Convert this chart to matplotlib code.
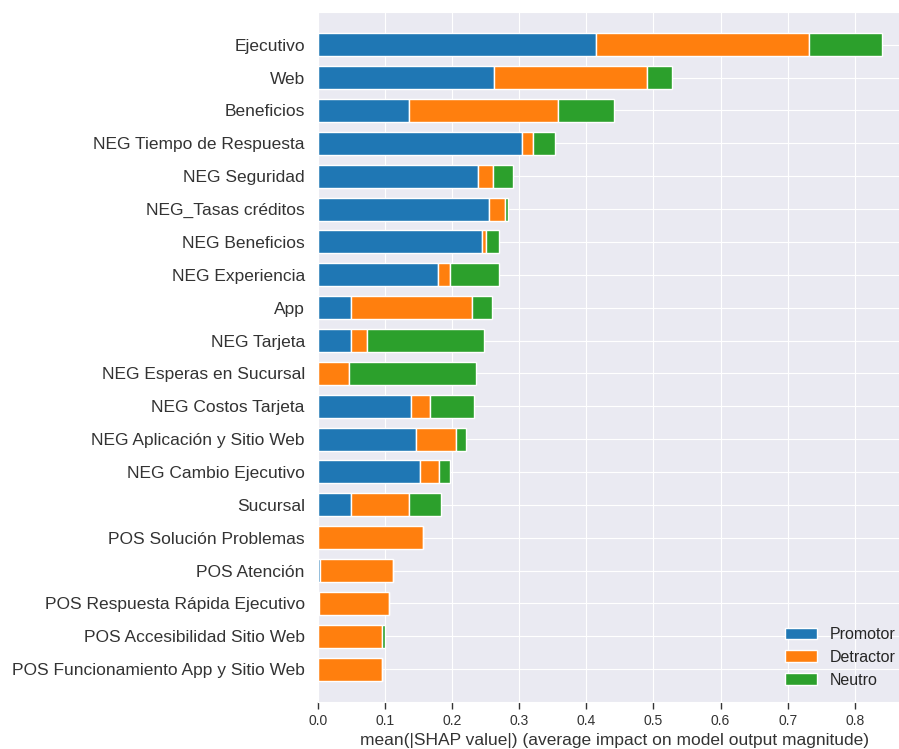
import matplotlib
matplotlib.use("Agg")
import matplotlib.pyplot as plt
import numpy as np
import seaborn as sns

# features, from bottom (y=0) to top
features = [
    "POS Funcionamiento App y Sitio Web",
    "POS Accesibilidad Sitio Web",
    "POS Respuesta Rápida Ejecutivo",
    "POS Atención",
    "POS Solución Problemas",
    "Sucursal",
    "NEG Cambio Ejecutivo",
    "NEG Aplicación y Sitio Web",
    "NEG Costos Tarjeta",
    "NEG Esperas en Sucursal",
    "NEG Tarjeta",
    "App",
    "NEG Experiencia",
    "NEG Beneficios",
    "NEG_Tasas créditos",
    "NEG Seguridad",
    "NEG Tiempo de Respuesta",
    "Beneficios",
    "Web",
    "Ejecutivo",
]

promotor = [0.0, 0.0, 0.002, 0.0035, 0.0, 0.0485, 0.152, 0.1466, 0.138, 0.0,
            0.0485, 0.0485, 0.1795, 0.245, 0.255, 0.239, 0.304, 0.136, 0.2625, 0.415]
detractor = [0.096, 0.095, 0.104, 0.109, 0.157, 0.0875, 0.029, 0.0585, 0.029, 0.046,
             0.0245, 0.181, 0.018, 0.006, 0.024, 0.022, 0.016, 0.222, 0.228, 0.317]
neutro = [0.0, 0.005, 0.0, 0.0, 0.0, 0.047, 0.016, 0.0157, 0.065, 0.189,
          0.174, 0.030, 0.073, 0.019, 0.004, 0.029, 0.034, 0.083, 0.0375, 0.109]

class_names = ["Promotor", "Detractor", "Neutro"]

sns.set_style("darkgrid")
plt.rcParams['font.family'] = ['Liberation Sans', 'DejaVu Sans']

fig = plt.figure(figsize=(8.99, 7.49), dpi=100)
ax = fig.add_axes([0.3537, 0.0627, 0.659, 0.9215])

axis_color = "#333333"
y_pos = np.arange(len(features))
left_pos = np.zeros(len(features))
for i, vals in enumerate([promotor, detractor, neutro]):
    vals = np.array(vals)
    ax.barh(y_pos, vals, 0.7, left=left_pos, align='center',
            color=plt.cm.tab10(i), label=class_names[i])
    left_pos += vals

ax.set_xlim(0, 0.883)
ax.set_ylim(-1, len(features))
ax.set_yticks(y_pos)
ax.set_yticklabels(features, fontsize=12.5)
ax.set_xticks(np.arange(0, 0.81, 0.1))
ax.set_xticklabels(["{:.1f}".format(t) for t in np.arange(0, 0.81, 0.1)])
ax.xaxis.set_ticks_position('bottom')
ax.yaxis.set_ticks_position('none')
ax.tick_params(color=axis_color, labelcolor=axis_color)
ax.tick_params('y', pad=6)
ax.tick_params('x', labelsize=10, length=5, width=1)
ax.set_xlabel("mean(|SHAP value|) (average impact on model output magnitude)",
              fontsize=12.5, color=axis_color)
ax.legend(frameon=False, fontsize=11.5, loc='lower right')

fig.savefig("out.png", dpi=100)
